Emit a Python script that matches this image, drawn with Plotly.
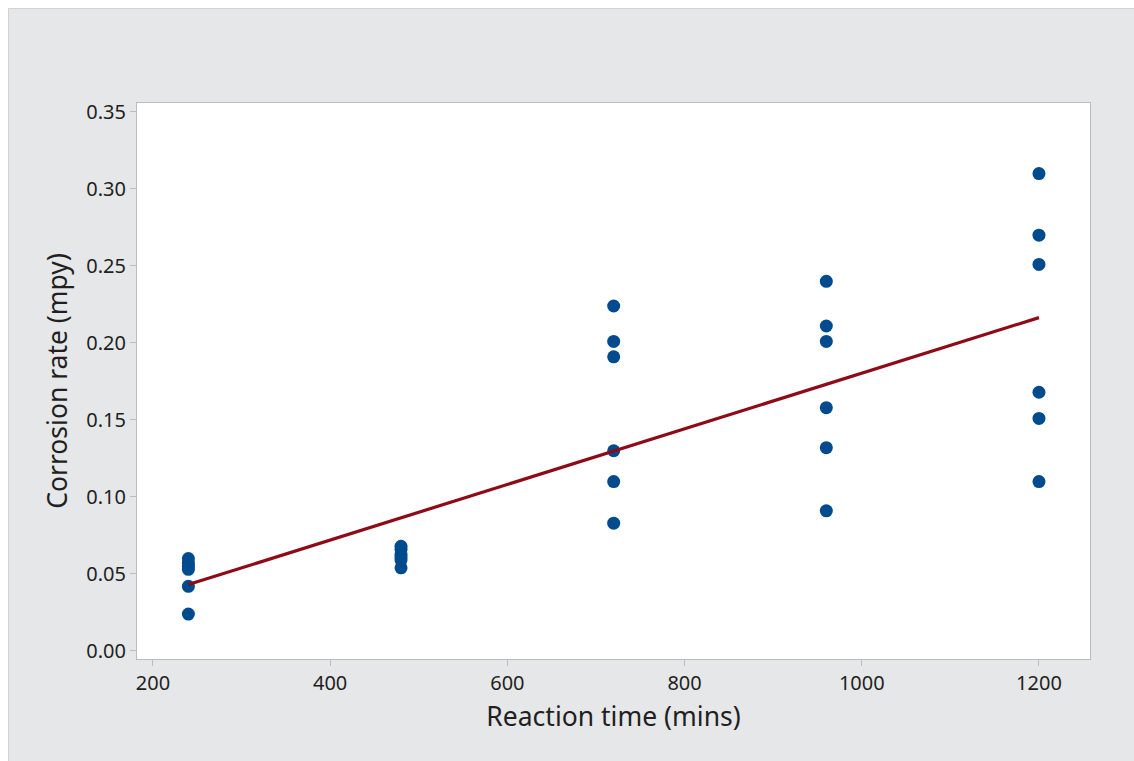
import numpy as np
import plotly.graph_objects as go

# Data
reaction_time = [240]*6 + [480]*6 + [720]*6 + [960]*6 + [1200]*6
corrosion_rate = [
    0.060, 0.057, 0.055, 0.053, 0.042, 0.024,
    0.068, 0.066, 0.063, 0.061, 0.059, 0.054,
    0.224, 0.201, 0.191, 0.130, 0.110, 0.083,
    0.240, 0.211, 0.201, 0.158, 0.132, 0.091,
    0.310, 0.270, 0.251, 0.168, 0.151, 0.110,
]
x_ticks = [200, 400, 600, 800, 1000, 1200]
y_ticks = [0.00, 0.05, 0.10, 0.15, 0.20, 0.25, 0.30, 0.35]

slope, intercept = np.polyfit(reaction_time, corrosion_rate, 1)
fit_x = [min(reaction_time), max(reaction_time)]
fit_y = [slope * v + intercept for v in fit_x]

FONT = "Noto Sans"
TXT = "#231f20"
fig = go.Figure()
fig.add_trace(go.Scatter(x=reaction_time, y=corrosion_rate, mode="markers",
                         marker=dict(color="#004b8d", size=13, line=dict(width=0)),
                         showlegend=False))
fig.add_trace(go.Scatter(x=fit_x, y=fit_y, mode="lines",
                         line=dict(color="#8e0a16", width=3.2),
                         showlegend=False))

W, H = 1134, 761
L, R, T, B = 137, 44, 103, 102
pw, ph = W - L - R, H - T - B

def px_x(p):
    return (p - L) / pw

def px_y(p):
    return (H - B - p) / ph

fig.update_layout(
    width=W, height=H,
    margin=dict(l=L, r=R, t=T, b=B),
    paper_bgcolor="#e6e7e9",
    plot_bgcolor="white",
    font=dict(family=FONT, color=TXT),
    shapes=[
        dict(type="rect", xref="paper", yref="paper", x0=px_x(-5), x1=px_x(W + 5),
             y0=px_y(-5), y1=px_y(8), fillcolor="white", line=dict(width=0), layer="below"),
        dict(type="rect", xref="paper", yref="paper", x0=px_x(-5), x1=px_x(8),
             y0=px_y(H + 5), y1=px_y(-5), fillcolor="white", line=dict(width=0), layer="below"),
        dict(type="line", xref="paper", yref="paper", x0=px_x(8.5), x1=px_x(W + 5),
             y0=px_y(8.5), y1=px_y(8.5), line=dict(color="#d2d3d5", width=1), layer="below"),
        dict(type="line", xref="paper", yref="paper", x0=px_x(8.5), x1=px_x(8.5),
             y0=px_y(8.5), y1=px_y(H + 5), line=dict(color="#d2d3d5", width=1), layer="below"),
    ],
    xaxis=dict(
        range=[182, 1257.6], tickvals=x_ticks, ticktext=[str(v) for v in x_ticks],
        showgrid=False, zeroline=False, showline=True, mirror=True,
        linecolor="#bcbcbc", linewidth=1.2,
        ticks="outside", ticklen=6, tickcolor="#bcbcbc", tickwidth=1,
        tickfont=dict(size=20, family=FONT, color=TXT),
        title=dict(text="Reaction time (mins)", font=dict(size=26.5, family=FONT, color=TXT),
                   standoff=12),
    ),
    yaxis=dict(
        range=[-0.0052, 0.3558], tickvals=y_ticks, ticktext=[f"{v:.2f}" for v in y_ticks],
        showgrid=False, zeroline=False, showline=True, mirror=True,
        linecolor="#bcbcbc", linewidth=1.2,
        ticks="outside", ticklen=6, tickcolor="#bcbcbc", tickwidth=1,
        tickfont=dict(size=20, family=FONT, color=TXT),
        title=dict(text="Corrosion rate (mpy)", font=dict(size=26.5, family=FONT, color=TXT),
                   standoff=10),
    ),
)

fig.write_html("out.html")
